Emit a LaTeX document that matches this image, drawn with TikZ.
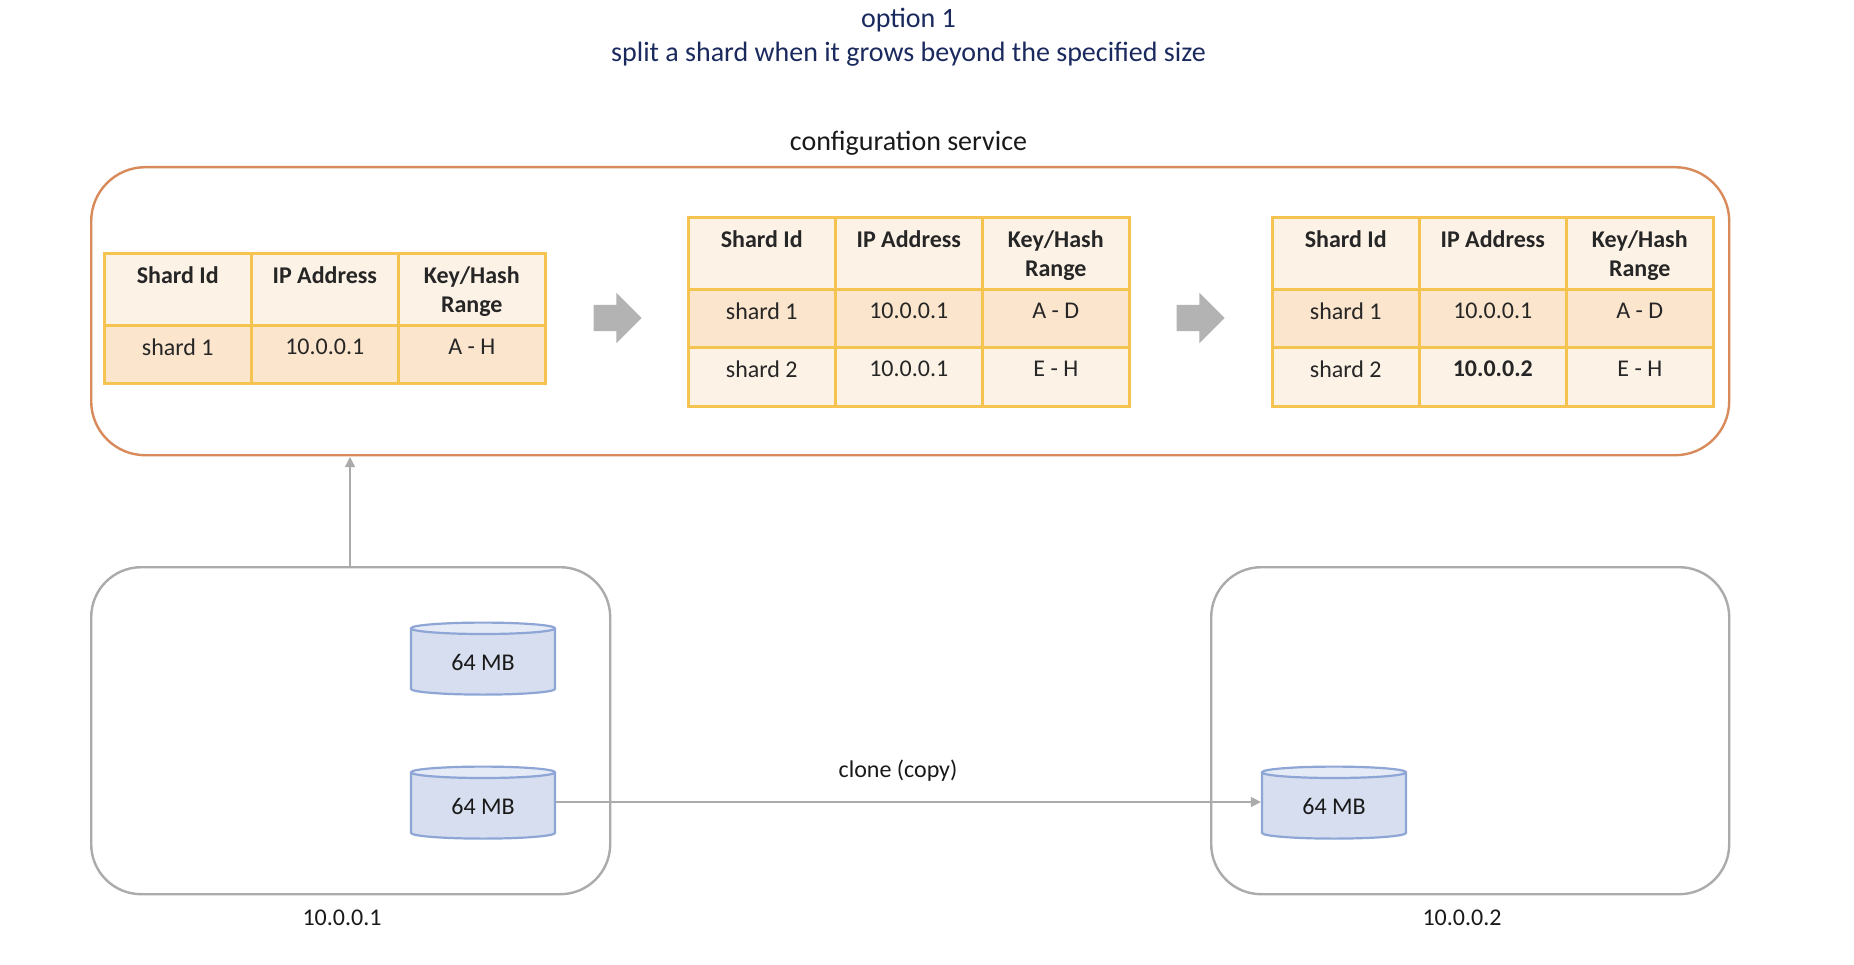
\documentclass[tikz,border=0pt]{standalone}
\usepackage{fontspec}
\setmainfont{Carlito}
\usetikzlibrary{shapes.geometric,shapes.arrows,arrows.meta}
\definecolor{navy}{HTML}{1B2A5E}
\definecolor{orangeline}{HTML}{D98A5B}
\definecolor{greyline}{HTML}{ABABAB}
\definecolor{gridline}{HTML}{F5C34F}
\definecolor{headfill}{HTML}{FDF2E6}
\definecolor{darkrow}{HTML}{FBE5CD}
\definecolor{lightrow}{HTML}{FDF2E6}
\definecolor{cylbody}{HTML}{D6DEEF}
\definecolor{cyltop}{HTML}{E5EBF6}
\definecolor{cylline}{HTML}{8EA6D6}
\definecolor{blockgrey}{HTML}{B3B3B3}
\tikzset{
  x=1pt,y=-1pt,
  gridcell/.style={rectangle,draw=gridline,line width=2.6pt,inner sep=0pt,anchor=north west},
  celltext/.style={anchor=north,align=center,font=\fontsize{24}{29}\selectfont,inner sep=0pt,text=black!85},
  headtext/.style={celltext,font=\fontsize{24}{29}\selectfont\bfseries},
  plainlabel/.style={font=\fontsize{24}{28}\selectfont,inner sep=0pt,text=black!90},
  titletext/.style={font=\fontsize{28}{32}\selectfont,inner sep=0pt,text=navy},
  orangepanel/.style={rectangle,rounded corners=54pt,draw=orangeline,line width=2.4pt,inner sep=0pt,anchor=north west},
  serverbox/.style={rectangle,rounded corners=50pt,draw=greyline,line width=2.4pt,inner sep=0pt,anchor=north west},
  datacyl/.style={cylinder,shape border rotate=90,aspect=0.18,draw=cylline,line width=2.2pt,
    cylinder uses custom fill,cylinder body fill=cylbody,cylinder end fill=cyltop,
    minimum width=144pt,minimum height=72pt,inner sep=0pt,font=\fontsize{24}{28}\selectfont,text=black!90},
  blockarrow/.style={single arrow,fill=blockgrey,draw=none,minimum width=50pt,minimum height=48pt,
    single arrow head extend=12pt,single arrow head indent=0pt,inner sep=0pt},
  thinlink/.style={draw=greyline,line width=1.3pt,-{Triangle[length=10pt,width=10pt,fill=greyline]}},
}
% name, x, y, w, h, fill, textstyle, text offset, text
\newcommand{\tcell}[9]{%
  \node[gridcell,fill=#6,minimum width=#4pt,minimum height=#5pt] (#1) at (#2,#3) {};
  \node[#7] (#1t) at ([yshift=-#8pt]#1.north) {#9};
}
\newcommand{\thead}[3]{% prefix,x,y
  \tcell{#1a}{#2}{#3}{147}{72}{headfill}{headtext}{14.5}{Shard Id}
  \tcell{#1b}{\numexpr#2+147\relax}{#3}{147}{72}{headfill}{headtext}{14.5}{IP Address}
  \tcell{#1c}{\numexpr#2+294\relax}{#3}{147}{72}{headfill}{headtext}{14.5}{Key/Hash\\Range}
}
\newcommand{\trow}[8]{% prefix,x,y,fill,h,text1,text2,text3
  \tcell{#1a}{#2}{#3}{147}{#5}{#4}{celltext}{14.5}{#6}
  \tcell{#1b}{\numexpr#2+147\relax}{#3}{147}{#5}{#4}{celltext}{14.5}{#7}
  \tcell{#1c}{\numexpr#2+294\relax}{#3}{147}{#5}{#4}{celltext}{14.5}{#8}
}
\begin{document}
\begin{tikzpicture}
\useasboundingbox (0,0) rectangle (1854,965);
\fill[white] (0,0) rectangle (1854,965);

\node[titletext] (title1) at (908.5,20) {option 1};
\node[titletext] (title2) at (908.5,54) {split a shard when it grows beyond the specified size};
\node[font=\fontsize{28}{32}\selectfont,inner sep=0pt,text=black!90] (conflabel) at (908.5,143) {configuration service};

\node[orangepanel,minimum width=1638pt,minimum height=288pt] (config) at (90,166) {};

\thead{ah}{103}{252}
\trow{ar}{103}{324}{darkrow}{58}{shard 1}{10.0.0.1}{A - H}

\thead{bh}{687}{216}
\trow{br}{687}{288}{darkrow}{58}{shard 1}{10.0.0.1}{A - D}
\trow{bs}{687}{346}{lightrow}{59}{shard 2}{10.0.0.1}{E - H}

\thead{ch}{1271}{216}
\trow{cr}{1271}{288}{darkrow}{58}{shard 1}{10.0.0.1}{A - D}
\trow{cs}{1271}{346}{lightrow}{59}{shard 2}{\textbf{10.0.0.2}}{E - H}

\node[blockarrow] (arrow1) at (611,318) {\rule{0pt}{26pt}};
\node[blockarrow] (arrow2) at (1194,318) {\rule{0pt}{26pt}};

\node[serverbox,minimum width=519pt,minimum height=327pt] (srvA) at (90,566) {};
\node[serverbox,minimum width=518pt,minimum height=327pt] (srvB) at (1210,566) {};

\node[datacyl] (cylA1) at (483,662) {64 MB};
\node[datacyl] (cylA2) at (483,806) {64 MB};
\node[datacyl] (cylB) at (1334,806) {64 MB};

\node[plainlabel] (ipA) at (342,918) {10.0.0.1};
\node[plainlabel] (ipB) at (1462,918) {10.0.0.2};
\node[plainlabel] (clonelabel) at (898,771) {clone (copy)};

\draw[thinlink] (srvA.north -| 350,0) -- (350,457);
\draw[thinlink] (cylA2.east |- 0,802) -- (cylB.west |- 0,802);
\end{tikzpicture}
\end{document}
